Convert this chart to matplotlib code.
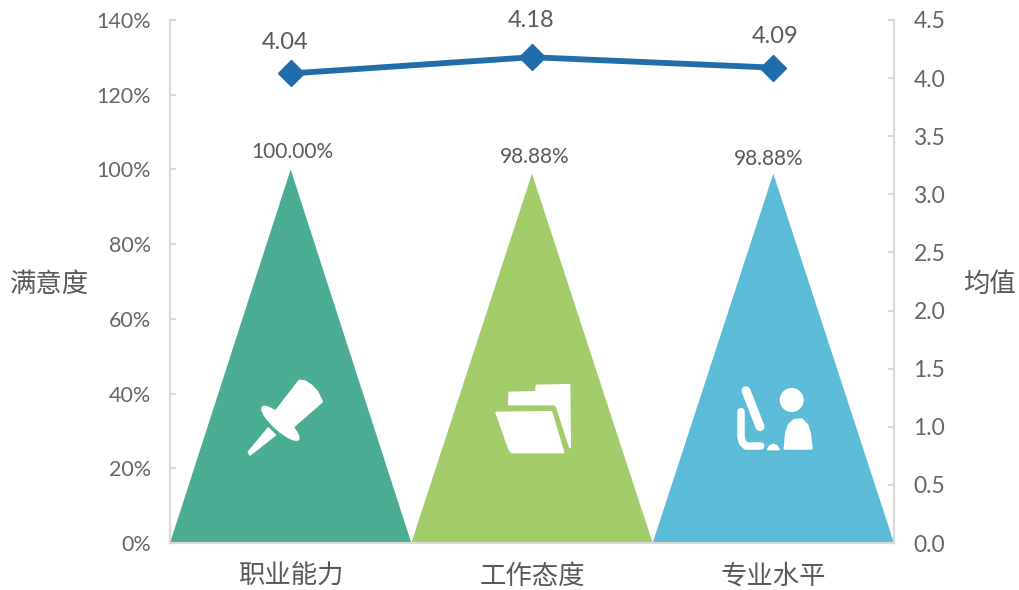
import matplotlib
matplotlib.use("Agg")
import matplotlib.pyplot as plt
from matplotlib.patches import Polygon, Ellipse, Circle
from matplotlib.transforms import Affine2D
from matplotlib.ticker import FuncFormatter

plt.rcParams["font.family"] = ["Lato", "Noto Sans CJK SC", "DejaVu Sans"]

categories = ["职业能力", "工作态度", "专业水平"]
satisfaction = [100.00, 98.88, 98.88]
means = [4.04, 4.18, 4.09]
tri_colors = ["#4BAD93", "#A3CC6B", "#5CBCD8"]

GREY = "#666666"
TEXT = "#595959"
W, H = 1019, 590

fig = plt.figure(figsize=(W / 100, H / 100), dpi=100)
ax = fig.add_axes([170 / W, 1 - 543 / H, 724 / W, 523 / H])
ax2 = ax.twinx()

ax.set_xlim(-0.5, 2.5)
ax.set_ylim(0, 140)
ax2.set_ylim(0, 4.5)

# labels in the source sit slightly off centre, offsets in points
pct_offsets = [(1.5, 5), (2, 5), (-3.5, 3)]
for i, v in enumerate(satisfaction):
    ax.add_patch(Polygon([(i - 0.5, 0), (i, v), (i + 0.5, 0)], closed=True,
                         facecolor=tri_colors[i], edgecolor="none"))
    ax.annotate(f"{v:.2f}%", (i, v), xytext=pct_offsets[i], textcoords="offset points",
                ha="center", va="bottom", fontsize=15, color=TEXT)

ax2.plot(range(3), means, color="#1F6EAB", lw=4.2, marker="D", ms=13,
         markeredgecolor="#1F6EAB")
mean_offsets = [(-4, 15), (-1, 19), (1.5, 15)]
for i, v in enumerate(means):
    ax2.annotate(f"{v:.2f}", (i, v), xytext=mean_offsets[i], textcoords="offset points",
                 ha="center", va="bottom", fontsize=17, color=TEXT)

ax.set_xticks(range(3))
ax.set_xticklabels(categories, fontsize=19, color=TEXT)
ax.tick_params(axis="x", length=0, pad=15)
ax.set_yticks(range(0, 141, 20))
ax.yaxis.set_major_formatter(FuncFormatter(lambda y, _: f"{y:.0f}%"))
ax.tick_params(axis="y", direction="in", length=4.5, width=1.5, color="#D9D9D9",
               labelsize=15.5, labelcolor=GREY, pad=13.5)
ax2.set_yticks([x * 0.5 for x in range(10)])
ax2.yaxis.set_major_formatter(FuncFormatter(lambda y, _: f"{y:.1f}"))
ax2.tick_params(axis="y", direction="in", length=4.5, width=1.5, color="#D9D9D9",
                labelsize=16.5, labelcolor=GREY, pad=14)

for a in (ax, ax2):
    a.spines["top"].set_visible(False)
    for s in ("left", "right", "bottom"):
        a.spines[s].set_color("#D9D9D9")
        a.spines[s].set_linewidth(1.5)

fig.text(49 / W, 1 - 284 / H, "满意度", ha="center", va="center", fontsize=19, color=TEXT)
fig.text(989 / W, 1 - 284 / H, "均值", ha="center", va="center", fontsize=19, color=TEXT)

# icons are drawn in pixel coords, y down, from the zoomed crops
px = Affine2D().scale(1, -1).translate(0, H)


def shape(pts, x0, y0):
    pts = [(x0 + a / 3, y0 + b / 3) for a, b in pts]
    ax2.add_patch(Polygon(pts, closed=True, facecolor="white", edgecolor="white", lw=1.5,
                          joinstyle="round", transform=px, zorder=4, clip_on=False))


def stroke(pts, x0, y0, width):
    xs = [x0 + a / 3 for a, b in pts]
    ys = [y0 + b / 3 for a, b in pts]
    ax2.plot(xs, ys, color="white", lw=width * 0.72, solid_capstyle="round",
             solid_joinstyle="round", transform=px, zorder=4, clip_on=False)


# pin
shape([(208, 62), (225, 64), (245, 77), (262, 95), (276, 125), (190, 200), (140, 150)], 230, 360)
ax2.add_patch(Ellipse((230 + 151 / 3, 360 + 190 / 3), 50, 15, angle=42,
                      facecolor="white", edgecolor="none", transform=px, zorder=4))
shape([(115, 205), (135, 225), (60, 284), (56, 276)], 230, 360)

# folder
shape([(88, 68), (168, 66), (170, 47), (268, 45), (270, 232), (230, 108), (222, 103), (87, 103)], 480, 370)
shape([(49, 128), (214, 126), (250, 247), (95, 247), (88, 238)], 480, 370)

# person at desk
ax2.add_patch(Circle((720 + 215 / 3, 370 + 90 / 3), 12, facecolor="white", edgecolor="none",
                     transform=px, zorder=4, clip_on=False))
shape([(194, 236), (198, 190), (206, 165), (222, 150), (245, 148), (262, 165), (270, 190), (275, 236)], 720, 370)
stroke([(78, 62), (120, 170)], 720, 370, 9)
stroke([(63, 125), (63, 200), (67, 217), (78, 228), (122, 228)], 720, 370, 7.5)
shape([(144, 238), (150, 228), (160, 224), (170, 228), (176, 238)], 720, 370)

fig.savefig("out.png", dpi=100)
